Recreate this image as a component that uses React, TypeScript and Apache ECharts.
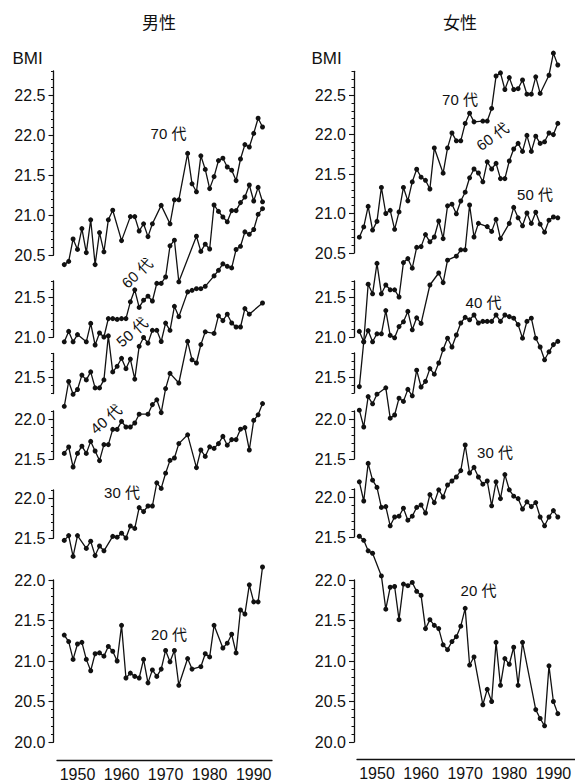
import React, { useEffect, useRef } from "react";
import * as echarts from "echarts";

// ---- years (x categories) ----
const yearsMale = [
  1947, 1948, 1949, 1950, 1951, 1952, 1953, 1954, 1955, 1956,
  1957, 1958, 1959, 1960, 1961, 1962, 1963, 1964, 1965, 1966,
  1967, 1968, 1969, 1970, 1971, 1972, 1973, 1974, 1975, 1976,
  1977, 1978, 1979, 1980, 1981, 1982, 1983, 1984, 1985, 1986,
  1987, 1988, 1989, 1990, 1991, 1992,
];
const yearsFemale = [
  1946, 1947, 1948, 1949, 1950, 1951, 1952, 1953, 1954, 1955,
  1956, 1957, 1958, 1959, 1960, 1961, 1962, 1963, 1964, 1965,
  1966, 1967, 1968, 1969, 1970, 1971, 1972, 1973, 1974, 1975,
  1976, 1977, 1978, 1979, 1980, 1981, 1982, 1983, 1984, 1985,
  1986, 1987, 1988, 1989, 1990, 1991,
];

// ---- male BMI series ----
const male70 = [
  20.38, 20.42, 20.70, 20.57, 20.83, 20.53, 20.94, 20.38, 20.78, 20.54,
  20.94, 21.06, null, 20.68, null, 20.98, 20.98, 20.80, 20.89, 20.73,
  20.89, null, 21.12, null, 20.89, 21.19, 21.19, null, 21.77, 21.39,
  21.29, 21.74, 21.57, 21.33, 21.48, 21.68, 21.71, 21.60, 21.56, 21.43,
  21.70, 21.88, 21.85, 22.02, 22.21, 22.10,
];
const male60 = [
  20.94, 21.07, 20.94, 21.03, null, 20.94, 21.17, 20.90, 21.05, 21.00,
  21.23, 21.23, 21.22, 21.23, 21.23, 21.44, 21.59, 21.37, 21.46, 21.51,
  21.45, 21.67, 21.67, 21.75, 22.14, 22.21, 21.69, null, null, null,
  22.26, 22.07, 22.16, 22.10, 22.65, 22.57, 22.50, 22.44, 22.58, 22.58,
  22.68, 22.75, 22.90, 22.70, 22.87, 22.69,
];
const male50 = [
  21.14, 21.45, 21.29, 21.35, 21.53, 21.47, 21.57, 21.37, 21.37, 21.47,
  22.02, 21.57, 21.64, 21.74, 21.61, 21.73, 21.48, 21.89, 22.00, 21.93,
  22.09, 22.09, 21.95, 22.18, 22.09, 22.39, 22.26, null, 22.57, 22.59,
  22.61, 22.61, 22.64, null, 22.77, 22.84, 22.92, 22.89, 22.87, 23.10,
  23.14, 23.32, 23.29, 23.35, 23.54, 23.61,
];
const male40 = [
  21.57, 21.65, 21.40, 21.57, 21.66, 21.57, 21.72, 21.60, 21.48, 21.68,
  21.68, 21.87, 21.87, 21.97, 21.90, 21.90, 21.95, 22.06, null, 22.06,
  22.18, 22.24, 22.08, 22.38, 22.57, null, 22.45, null, 22.97, 22.74,
  22.70, 22.93, 23.09, null, 23.07, 23.29, 23.23, 23.31, 23.20, 23.15,
  23.15, 23.38, 23.31, null, null, 23.45,
];
const male30 = [
  21.47, 21.53, 21.27, 21.53, null, 21.37, 21.46, 21.28, 21.40, 21.34,
  null, 21.52, 21.51, 21.56, 21.50, 21.65, 21.62, 21.88, 21.83, 21.90,
  21.90, 22.19, 22.12, 22.31, 22.47, 22.50, 22.68, null, 22.79, null,
  22.38, 22.60, 22.52, 22.64, 22.62, 22.68, 22.77, 22.66, 22.73, 22.73,
  22.86, 22.88, 22.60, 22.97, 23.04, 23.18,
];
const male20 = [
  21.32, 21.24, 21.02, 21.21, 21.23, 21.02, 20.88, 21.09, 21.10, 21.06,
  21.18, 21.12, 21.00, 21.44, 20.79, 20.85, 20.81, 20.79, 21.02, 20.73,
  20.89, 20.81, 20.90, 21.13, 20.99, 21.13, 20.70, null, 21.03, 20.90,
  null, 20.93, 21.09, 21.05, 21.44, null, 21.16, 21.22, 21.33, 21.10,
  21.63, 21.58, 21.94, 21.73, 21.73, 22.16,
];

// ---- female BMI series ----
const female70 = [
  20.70, 20.83, 21.09, 20.79, 20.90, 21.33, 21.00, 21.04, 20.80, 21.02,
  21.33, 21.16, 21.40, 21.56, 21.46, 21.42, 21.31, 21.83, null, 21.51,
  21.83, 22.02, 21.92, 21.92, 22.14, 22.27, 22.16, null, 22.17, 22.17,
  22.33, 22.74, 22.78, 22.57, 22.72, 22.57, 22.58, 22.69, 22.51, 22.51,
  22.73, 22.52, null, 22.75, 23.03, 22.88,
];
const female60 = [
  21.07, 20.94, 21.66, 21.54, 21.92, 21.54, 21.65, 21.59, 21.59, 21.50,
  21.93, 21.98, 21.86, 22.12, 22.13, 22.28, 22.19, 22.25, 22.45, 22.23,
  22.64, 22.66, 22.54, 22.70, 22.81, 22.99, 23.10, 23.05, 22.94, 23.19,
  23.10, 23.17, 22.98, 22.98, 23.20, 23.35, 23.42, 23.32, 23.52, 23.32,
  23.51, 23.42, 23.44, 23.55, 23.53, 23.67,
];
const female50 = [
  21.38, 21.94, 22.08, 21.94, 22.04, 22.04, 22.33, 22.02, 21.99, 22.13,
  22.19, 22.32, 22.09, 22.24, 22.17, null, 22.65, null, 22.80, 22.68,
  22.96, null, 23.01, 23.09, 23.09, 23.65, 23.25, 23.42, null, 23.38,
  23.32, 23.47, 23.23, null, 23.42, 23.62, 23.49, 23.39, 23.55, 23.42,
  23.56, 23.41, 23.31, 23.46, 23.50, 23.49,
];
const female40 = [
  22.11, 21.90, 22.28, 22.19, 22.31, null, 22.39, 22.01, 22.05, 22.26,
  22.22, 22.37, 22.29, 22.61, 22.40, 22.47, 22.63, 22.56, 22.70, 22.87,
  23.01, 22.90, 23.05, 23.20, 23.27, 23.24, 23.30, 23.20, 23.22, 23.22,
  23.22, 23.30, 23.22, 23.30, 23.28, 23.26, 23.18, 23.01, 23.22, 23.26,
  23.01, 22.90, 22.74, 22.84, 22.93, 22.97,
];
const female30 = [
  22.19, 21.95, 22.42, 22.21, 22.12, 21.87, 21.88, 21.64, 21.75, 21.76,
  21.86, 21.71, 21.76, 21.87, 21.90, 21.80, 22.03, 21.93, 22.09, 22.00,
  22.15, 22.20, 22.25, 22.33, 22.65, 22.30, 22.37, 22.25, 22.16, 22.20,
  21.89, 22.19, 21.98, 22.28, 22.09, 22.01, 21.98, 21.85, 21.94, 21.88,
  21.93, 21.75, 21.64, 21.75, 21.83, 21.75,
];
const female20 = [
  22.54, 22.49, 22.36, 22.33, null, 22.05, 21.64, 21.91, 21.92, 21.51,
  21.95, 21.93, 21.97, 21.86, 21.81, 21.40, 21.51, 21.44, 21.40, 21.20,
  21.14, 21.24, 21.30, 21.43, 21.65, 20.95, 21.05, null, 20.46, 20.65,
  20.50, 21.23, 20.70, 21.03, 20.96, 21.17, 20.70, 21.23, null, null,
  20.40, 20.29, 20.20, 20.94, 20.50, 20.35,
];

// ---- tick labels ----
const xTickYears = [1950, 1960, 1970, 1980, 1990];
const ticks70 = [20.5, 21.0, 21.5, 22.0, 22.5];
const ticks60 = [21.0, 21.5];
const ticks50 = [21.5];
const ticks40 = [21.5, 22.0];
const ticks30 = [21.5, 22.0];
const ticks20 = [20.0, 20.5, 21.0, 21.5, 22.0];
const ageLabels = ["70 代", "60 代", "50 代", "40 代", "30 代", "20 代"];
const panelTitles = ["男性", "女性"];
const yAxisTitle = "BMI";

const FONT = '"Liberation Sans", Arial, "Noto Sans CJK JP", sans-serif';
const INK = "#111";

function buildOption() {
  const panels = [
    {
      title: panelTitles[0],
      titleX: 159,
      bmiX: 12.5,
      gridLeft: 57,
      gridRight: 272,
      axisX: 53.5,
      xMin: 1945.35,
      xMax: 1994.15,
      years: yearsMale,
      series: [male70, male60, male50, male40, male30, male20],
      segs: [
        { top: 71, bottom: 255, min: 20.5, max: 22.8, ticks: ticks70 },
        { top: 281, bottom: 337, min: 21.0, max: 21.7, ticks: ticks60 },
        { top: 353.5, bottom: 393.5, min: 21.3, max: 21.8, ticks: ticks50 },
        { top: 411, bottom: 459, min: 21.5, max: 22.1, ticks: ticks40 },
        { top: 490, bottom: 538, min: 21.5, max: 22.1, ticks: ticks30 },
        { top: 580, bottom: 742, min: 20.0, max: 22.0, ticks: ticks20 },
      ],
      xAxisY: 760,
      labels: [
        { x: 168.5, y: 133.5, r: 0 },
        { x: 137, y: 273, r: 43 },
        { x: 132, y: 332, r: 41 },
        { x: 106, y: 419, r: 41 },
        { x: 122, y: 492.5, r: 0 },
        { x: 169, y: 634, r: 0 },
      ],
    },
    {
      title: panelTitles[1],
      titleX: 460,
      bmiX: 311.5,
      gridLeft: 357,
      gridRight: 575,
      axisX: 354,
      xMin: 1945.47,
      xMax: 1994.9,
      years: yearsFemale,
      series: [female70, female60, female50, female40, female30, female20],
      segs: [
        { top: 71.3, bottom: 253, min: 20.5, max: 22.8, ticks: ticks70 },
        { top: 281, bottom: 337, min: 21.0, max: 21.7, ticks: ticks60 },
        { top: 353, bottom: 393, min: 21.3, max: 21.8, ticks: ticks50 },
        { top: 411, bottom: 459, min: 21.5, max: 22.1, ticks: ticks40 },
        { top: 489, bottom: 537, min: 21.5, max: 22.1, ticks: ticks30 },
        { top: 580, bottom: 742, min: 20.0, max: 22.0, ticks: ticks20 },
      ],
      xAxisY: 759.5,
      labels: [
        { x: 460, y: 99.5, r: 0 },
        { x: 492.5, y: 136.5, r: 36 },
        { x: 535, y: 194, r: 0 },
        { x: 483.5, y: 302, r: 0 },
        { x: 495, y: 452, r: 0 },
        { x: 478.5, y: 590, r: 0 },
      ],
    },
  ];

  const grid: any[] = [];
  const xAxis: any[] = [];
  const yAxis: any[] = [];
  const series: any[] = [];
  const graphic: any[] = [];

  panels.forEach((p, pi) => {
    graphic.push({
      type: "text",
      x: p.titleX,
      y: 21,
      style: {
        text: p.title,
        fill: INK,
        fontSize: 17,
        fontFamily: '"Noto Sans CJK JP", sans-serif',
        align: "center",
        verticalAlign: "middle",
      },
    });
    graphic.push({
      type: "text",
      x: p.bmiX,
      y: 58.5,
      style: {
        text: yAxisTitle,
        fill: INK,
        fontSize: 17,
        fontFamily: FONT,
        align: "left",
        verticalAlign: "middle",
      },
    });

    p.segs.forEach((s, si) => {
      const g = pi * 6 + si;
      const isBottom = si === 5;
      grid.push({
        left: p.gridLeft,
        top: s.top,
        width: p.gridRight - p.gridLeft,
        height: s.bottom - s.top,
        containLabel: false,
        outerBoundsMode: "none",
      });
      xAxis.push({
        type: "value",
        gridIndex: g,
        min: p.xMin,
        max: p.xMax,
        show: isBottom,
        position: "bottom",
        offset: isBottom ? p.xAxisY - s.bottom : 0,
        axisLine: { show: true, onZero: false, lineStyle: { color: INK, width: 1.3 } },
        axisTick: { show: false },
        axisLabel: {
          show: isBottom,
          customValues: xTickYears,
          formatter: (v: number) => String(Math.round(v)),
          fontSize: 16,
          color: INK,
          fontFamily: FONT,
          margin: 6,
        },
        splitLine: { show: false },
      });
      const off = p.gridLeft - p.axisX;
      // minor-tick axis (carries the axis line and data)
      yAxis.push({
        type: "value",
        gridIndex: g,
        position: "left",
        offset: off,
        min: s.min,
        max: s.max,
        interval: 0.1,
        axisLine: { show: true, onZero: false, lineStyle: { color: INK, width: 1.3 } },
        axisTick: { show: true, length: 2.5, lineStyle: { color: INK, width: 1 } },
        axisLabel: { show: false },
        splitLine: { show: false },
      });
      // major-tick axis with labels
      yAxis.push({
        type: "value",
        gridIndex: g,
        position: "left",
        offset: off,
        min: s.min,
        max: s.max,
        axisLine: { show: false },
        axisTick: {
          show: true,
          length: 5,
          customValues: s.ticks,
          lineStyle: { color: INK, width: 1.1 },
        },
        axisLabel: {
          show: true,
          customValues: s.ticks,
          formatter: (v: number) => v.toFixed(1),
          fontSize: 16,
          color: INK,
          fontFamily: FONT,
          margin: 8,
        },
        splitLine: { show: false },
      });

      const vals = p.series[si];
      series.push({
        type: "line",
        name: p.title + ageLabels[si],
        xAxisIndex: g,
        yAxisIndex: g * 2,
        data: p.years
          .map((yr, i) => [yr, vals[i]])
          .filter((d) => d[1] !== null),
        clip: false,
        symbol: "circle",
        symbolSize: 5,
        showSymbol: true,
        itemStyle: { color: INK },
        lineStyle: { color: INK, width: 1.3 },
        silent: true,
        z: 3,
      });

      const lb = p.labels[si];
      graphic.push({
        type: "text",
        x: lb.x,
        y: lb.y,
        rotation: (lb.r * Math.PI) / 180,
        style: {
          text: ageLabels[si],
          fill: INK,
          fontSize: 15,
          fontFamily: FONT,
          align: "center",
          verticalAlign: "middle",
        },
      });
    });
  });

  return {
    animation: false,
    backgroundColor: "#ffffff",
    grid,
    xAxis,
    yAxis,
    series,
    graphic,
  };
}

export default function App() {
  const ref = useRef<HTMLDivElement | null>(null);
  useEffect(() => {
    if (!ref.current) return;
    const chart = echarts.init(ref.current, undefined, { renderer: "svg" });
    chart.setOption(buildOption() as any);
    return () => {
      chart.dispose();
    };
  }, []);
  return (
    <div
      ref={ref}
      style={{
        position: "absolute",
        left: 0,
        top: 0,
        width: 575,
        height: 784,
        background: "#fff",
      }}
    />
  );
}
